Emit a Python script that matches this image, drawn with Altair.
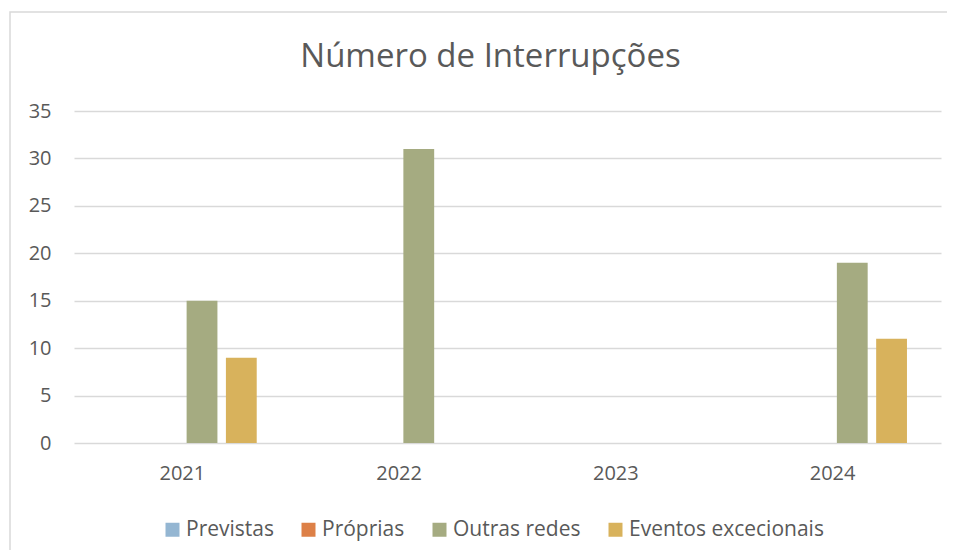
import altair as alt
import pandas as pd

years = ["2021", "2022", "2023", "2024"]
series = ["Previstas", "Próprias", "Outras redes", "Eventos excecionais"]
previstas = [0, 0, 0, 0]
proprias = [0, 0, 0, 0]
outras_redes = [15, 31, 0, 19]
eventos_excecionais = [9, 0, 0, 11]
colors = ["#94B6D2", "#DD8047", "#A5AB81", "#D8B25C"]
y_ticks = [0, 5, 10, 15, 20, 25, 30, 35]

rows = []
for name, vals in zip(series, [previstas, proprias, outras_redes, eventos_excecionais]):
    for yr, v in zip(years, vals):
        rows.append({"Ano": yr, "Série": name, "Valor": v})
df = pd.DataFrame(rows)

FONT = "Open Sans"
TXT = "#595959"

border = alt.Chart(pd.DataFrame({"a": [0]})).mark_rect(
    fill=None, stroke="#d9d9d9", strokeWidth=1.5
).encode(
    x=alt.value(-64), x2=alt.value(1000), y=alt.value(-99), y2=alt.value(600)
)

bars = alt.Chart(df).mark_bar().encode(
    x=alt.X("Ano:N", sort=years, title=None,
            scale=alt.Scale(paddingInner=0, paddingOuter=0),
            axis=alt.Axis(labelAngle=0, domain=False, ticks=False, labelPadding=20,
                          labelFontSize=20, labelColor=TXT, labelFont=FONT)),
    xOffset=alt.XOffset("Série:N", sort=series,
                        scale=alt.Scale(paddingInner=0.216, paddingOuter=0.866)),
    y=alt.Y("Valor:Q", title=None,
            scale=alt.Scale(domain=[0, 35], nice=False),
            axis=alt.Axis(values=y_ticks, domain=False, ticks=False, labelPadding=23,
                          labelFontSize=20, labelColor=TXT, labelFont=FONT,
                          gridColor="#d9d9d9", gridWidth=1.3)),
    color=alt.Color("Série:N", sort=series, title=None,
                    scale=alt.Scale(domain=series, range=colors),
                    legend=alt.Legend(orient="none", direction="horizontal",
                                      legendX=88, legendY=408,
                                      symbolType="square", symbolSize=196,
                                      symbolStrokeWidth=0, labelOffset=3,
                                      columnPadding=24, labelFontSize=21,
                                      labelLimit=400,
                                      labelColor=TXT, labelFont=FONT)),
)

chart = alt.layer(border, bars).properties(
    width=867, height=332,
    autosize=alt.AutoSizeParams(type="none"),
    padding={"left": 66, "top": 103, "right": 6, "bottom": 107},
    title=alt.Title("Número de Interrupções", fontSize=33, font=FONT,
                    fontWeight="normal", color=TXT, dx=-17, offset=-63,
                    frame="group"),
).configure_view(stroke=None).configure_axis(gridColor="#d9d9d9")

chart.save("out.html", embed_options={"renderer": "svg", "actions": False})
